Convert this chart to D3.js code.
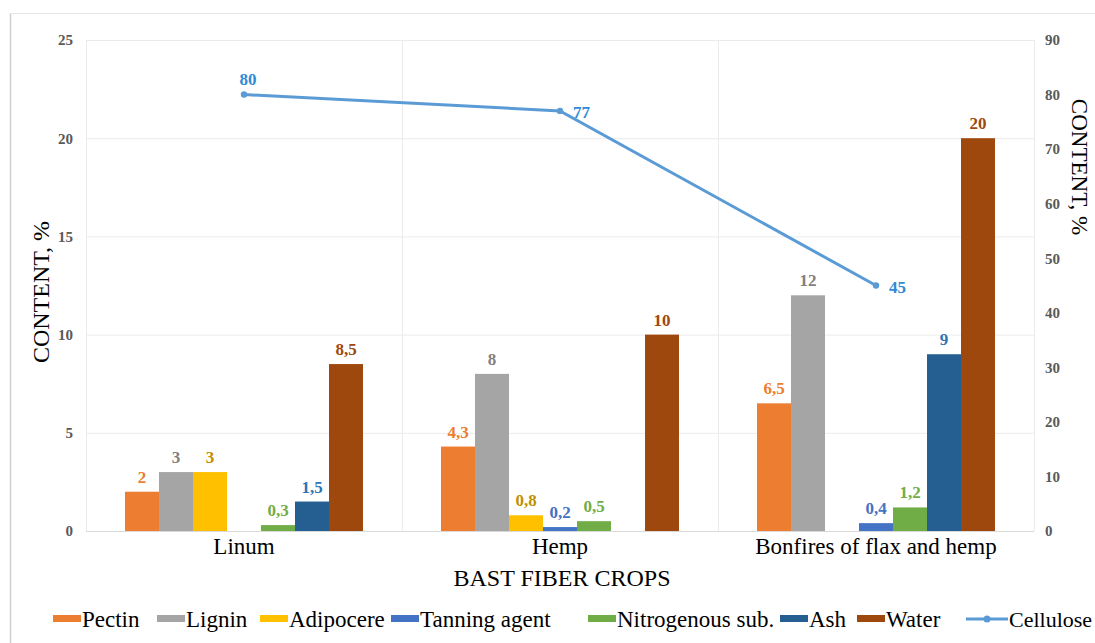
<!DOCTYPE html>
<html><head><meta charset="utf-8">
<script src="https://cdn.jsdelivr.net/npm/d3@7"></script>
<style>
html,body{margin:0;padding:0;background:#fff;}
</style></head>
<body>
<svg id="c" width="1095" height="643"></svg>
<script>
const categories = ["Linum", "Hemp", "Bonfires of flax and hemp"];
const seriesNames = ["Pectin", "Lignin", "Adipocere", "Tanning agent", "Nitrogenous sub.", "Ash", "Water"];
const pectin = [2, 4.3, 6.5];
const lignin = [3, 8, 12];
const adipocere = [3, 0.8, null];
const tanning = [null, 0.2, 0.4];
const nitrogenous = [0.3, 0.5, 1.2];
const ash = [1.5, null, 9];
const water = [8.5, 10, 20];
const cellulose = [80, 77, 45];
const leftTicks = [0, 5, 10, 15, 20, 25];
const rightTicks = [0, 10, 20, 30, 40, 50, 60, 70, 80, 90];

const FONT = "Liberation Serif, Times New Roman, DejaVu Serif, serif";
const seriesValues = [pectin, lignin, adipocere, tanning, nitrogenous, ash, water];
const barColors = ["#ED7D31", "#A5A5A5", "#FFC000", "#4472C4", "#70AD47", "#255E91", "#9E480E"];
const labelColors = ["#ED7D31", "#7F7F7F", "#C09000", "#4472C4", "#70AD47", "#2E75B6", "#9E480E"];
const lineColor = "#5B9BD5";
const lineLabelColor = "#2E8BD6";

const svg = d3.select("#c");
const L = 86, R = 1034, T = 40, B = 531;

svg.append("line").attr("x1",10.5).attr("x2",10.5).attr("y1",13).attr("y2",643).attr("stroke","#cfcfcf").attr("stroke-width",1.5);
svg.append("line").attr("x1",10).attr("x2",1095).attr("y1",13.5).attr("y2",13.5).attr("stroke","#e6e6e6").attr("stroke-width",1);

const x0 = d3.scaleBand().domain(categories).range([L, R]).padding(0);
const x1 = d3.scaleBand().domain(seriesNames).range([39, x0.bandwidth() - 39]).padding(0);
const yL = d3.scaleLinear().domain([0, 25]).range([B, T]);
const yR = d3.scaleLinear().domain([0, 90]).range([B, T]);

const g = svg.append("g");
g.selectAll("line.h").data(leftTicks).join("line")
  .attr("x1", L).attr("x2", R).attr("y1", d => yL(d) + 0.5).attr("y2", d => yL(d) + 0.5)
  .attr("stroke", d => d === 0 ? "#d9d9d9" : "#ebebeb").attr("stroke-width", 1);
g.selectAll("line.v").data(categories.map(c => x0(c)).concat([R])).join("line")
  .attr("x1", d => d + 0.5).attr("x2", d => d + 0.5).attr("y1", T).attr("y2", B)
  .attr("stroke", "#ebebeb").attr("stroke-width", 1);

const axL = d3.axisLeft(yL).tickValues(leftTicks).tickSize(0).tickPadding(13);
const gL = svg.append("g").attr("transform", `translate(${L},0)`).call(axL);
gL.attr("font-family", FONT);
gL.select(".domain").remove();
gL.selectAll("text").attr("font-size", 15).attr("font-weight", "bold").attr("fill", "#595959");

const axR = d3.axisRight(yR).tickValues(rightTicks).tickSize(0).tickPadding(11);
const gR = svg.append("g").attr("transform", `translate(${R},0)`).call(axR);
gR.attr("font-family", FONT);
gR.select(".domain").remove();
gR.selectAll("text").attr("font-size", 15).attr("font-weight", "bold").attr("fill", "#595959");

const axX = d3.axisBottom(x0).tickSize(0).tickPadding(7);
const gX = svg.append("g").attr("transform", `translate(0,${B})`).call(axX);
gX.attr("font-family", FONT);
gX.select(".domain").remove();
gX.selectAll("text").attr("font-size", 23).attr("fill", "#000");

svg.append("text").attr("transform", `translate(49,292) rotate(-90)`)
  .attr("font-family", FONT).attr("text-anchor", "middle").attr("font-size", 24).attr("fill", "#000").text("CONTENT, %");
svg.append("text").attr("transform", `translate(1072,167) rotate(90)`)
  .attr("font-family", FONT).attr("text-anchor", "middle").attr("font-size", 23).attr("fill", "#000").text("CONTENT, %");
svg.append("text").attr("x", 562).attr("y", 586).attr("text-anchor", "middle")
  .attr("font-family", FONT).attr("font-size", 24).attr("fill", "#000").text("BAST FIBER CROPS");

const fmt = v => String(v).replace(".", ",");
const barData = [];
categories.forEach((c, ci) => {
  seriesNames.forEach((s, si) => {
    const v = seriesValues[si][ci];
    if (v !== null && v !== undefined) barData.push({c, s, si, v});
  });
});
svg.append("g").selectAll("rect").data(barData).join("rect")
  .attr("x", d => x0(d.c) + x1(d.s))
  .attr("y", d => yL(d.v))
  .attr("width", x1.bandwidth())
  .attr("height", d => B - yL(d.v))
  .attr("fill", d => barColors[d.si]);
svg.append("g").attr("font-family", FONT).selectAll("text").data(barData).join("text")
  .attr("x", d => x0(d.c) + x1(d.s) + x1.bandwidth() / 2)
  .attr("y", d => yL(d.v) - 9)
  .attr("text-anchor", "middle").attr("font-size", 17).attr("font-weight", "bold")
  .attr("fill", d => labelColors[d.si]).text(d => fmt(d.v));

const pts = categories.map((c, i) => ({x: x0(c) + x0.bandwidth() / 2, y: yR(cellulose[i]), v: cellulose[i], i}));
svg.append("path").datum(pts)
  .attr("d", d3.line().x(d => d.x).y(d => d.y))
  .attr("fill", "none").attr("stroke", lineColor).attr("stroke-width", 3);
svg.append("g").selectAll("circle").data(pts).join("circle")
  .attr("cx", d => d.x).attr("cy", d => d.y).attr("r", 3.2).attr("fill", lineColor);
svg.append("g").attr("font-family", FONT).selectAll("text").data(pts).join("text")
  .attr("x", d => d.i === 0 ? d.x + 4 : d.x + 13)
  .attr("y", d => d.i === 0 ? d.y - 10 : d.y + 7)
  .attr("text-anchor", d => d.i === 0 ? "middle" : "start")
  .attr("font-size", 17).attr("font-weight", "bold").attr("fill", lineLabelColor)
  .text(d => fmt(d.v));

const legendItems = seriesNames.map((s, i) => ({name: s, color: barColors[i], type: "bar"}))
  .concat([{name: "Cellulose", color: lineColor, type: "line"}]);
const legendX = [53, 157, 260, 391, 588, 780, 857, 966];
const lg = svg.append("g").attr("font-family", FONT);
legendItems.forEach((d, i) => {
  const gx = lg.append("g").attr("transform", `translate(${legendX[i]},619)`);
  if (d.type === "bar") {
    gx.append("rect").attr("x", 0).attr("y", -4).attr("width", 28).attr("height", 7).attr("fill", d.color);
    gx.append("text").attr("x", 29).attr("y", 8).attr("font-size", 23).attr("fill", "#000").text(d.name);
  } else {
    gx.append("line").attr("x1", 0).attr("x2", 42).attr("y1", 0).attr("y2", 0).attr("stroke", d.color).attr("stroke-width", 3);
    gx.append("circle").attr("cx", 21).attr("cy", 0).attr("r", 3.5).attr("fill", d.color);
    gx.append("text").attr("x", 43).attr("y", 8).attr("font-size", 22).attr("fill", "#000").text(d.name);
  }
});
</script>
</body></html>
